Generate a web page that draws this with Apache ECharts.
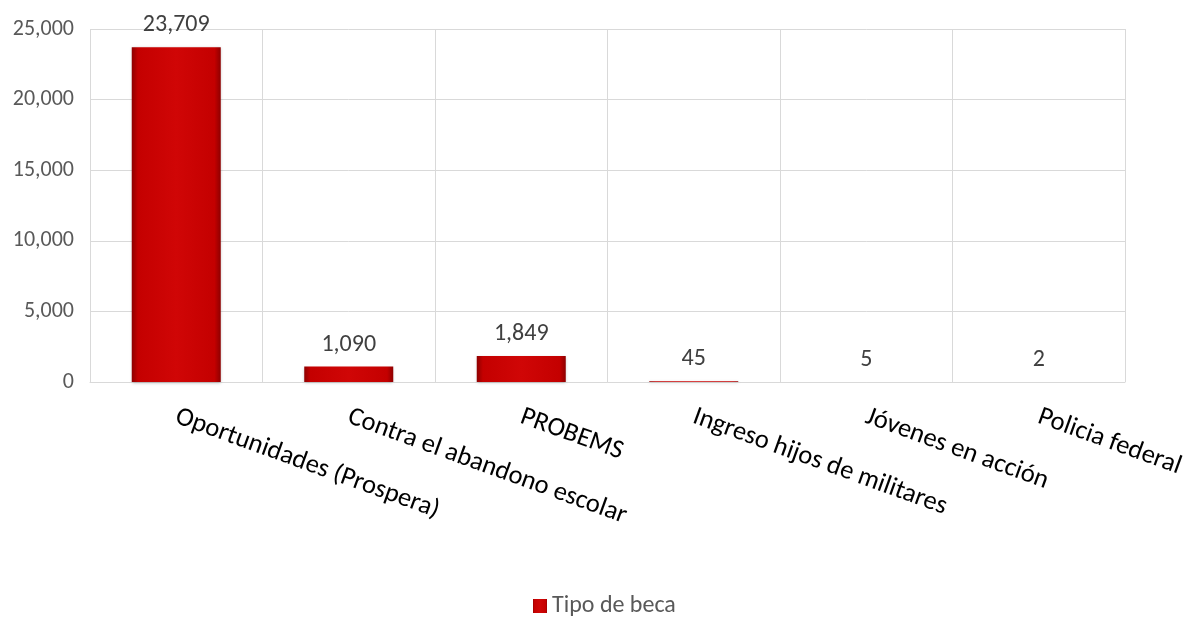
<!DOCTYPE html>
<html><head><meta charset="utf-8">
<script src="https://cdn.jsdelivr.net/npm/echarts@6/dist/echarts.min.js"></script>
<style>html,body{margin:0;padding:0;background:#fff}#c{width:1188px;height:626px}</style>
</head><body><div id="c"></div>
<script>
const categories = ["Oportunidades (Prospera)", "Contra el abandono escolar", "PROBEMS", "Ingreso hijos de militares", "Jóvenes en acción", "Policia federal"];
const values = [23709, 1090, 1849, 45, 5, 2];
const seriesName = "Tipo de beca";

const FONT = "Carlito, Lato, 'Open Sans', sans-serif";
const barColor = {
  type: 'linear', x: 0, y: 0, x2: 1, y2: 0,
  colorStops: [
    {offset: 0, color: '#8e0000'},
    {offset: 0.07, color: '#c40000'},
    {offset: 0.5, color: '#d00606'},
    {offset: 0.93, color: '#c40000'},
    {offset: 1, color: '#8e0000'}
  ]
};
const chart = echarts.init(document.getElementById('c'));
chart.setOption({
  animation: false,
  textStyle: {fontFamily: FONT},
  grid: {left: 90, right: 63, top: 29, bottom: 244, containLabel: false},
  legend: {
    bottom: 3, left: 528, itemWidth: 14, itemHeight: 14, itemGap: 5,
    textStyle: {fontSize: 24, color: '#595959', fontFamily: FONT},
    data: [{name: seriesName, icon: 'rect'}]
  },
  xAxis: {
    type: 'category', data: categories,
    axisLine: {lineStyle: {color: '#d9d9d9', width: 1}},
    axisTick: {show: false},
    splitLine: {show: true, lineStyle: {color: '#d9d9d9', width: 1}},
    axisLabel: {rotate: -20, fontSize: 26.5, color: '#000', margin: 34, interval: 0, fontFamily: FONT}
  },
  yAxis: {
    type: 'value', min: 0, max: 25000, interval: 5000,
    axisLine: {show: false}, axisTick: {show: false},
    splitLine: {lineStyle: {color: '#d9d9d9', width: 1}},
    axisLabel: {fontSize: 22, color: '#595959', margin: 16, fontFamily: FONT,
      formatter: v => v.toLocaleString('en-US')}
  },
  series: [{
    name: seriesName, type: 'bar', data: values, barWidth: 89,
    itemStyle: {color: barColor,
      shadowColor: 'rgba(0,0,0,0.25)', shadowBlur: 3, shadowOffsetY: 1},
    label: {show: true, position: 'top', distance: 10, fontSize: 24, color: '#404040', fontFamily: FONT,
      formatter: p => p.value.toLocaleString('en-US')}
  }]
});
</script></body></html>
